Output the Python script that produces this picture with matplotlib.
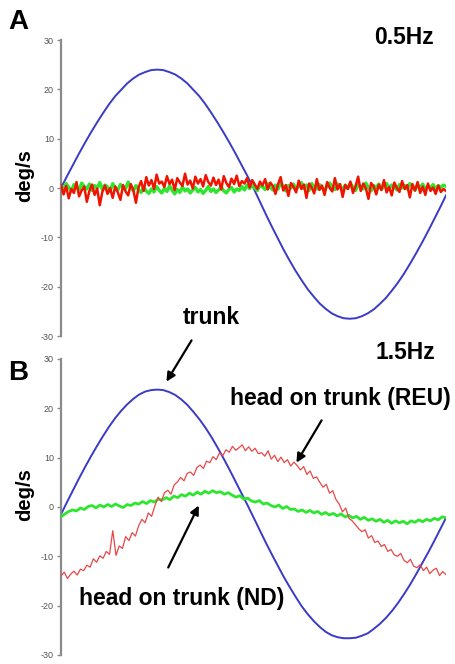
import matplotlib.pyplot as plt
import numpy as np

plt.rcParams['font.family'] = ['Liberation Sans', 'DejaVu Sans']
plt.rcParams['axes.unicode_minus'] = False

# trunk velocity over one cycle (deg/s)
trunk_a = [0, 2.4, 4.7, 7.0, 9.2, 11.3, 13.3, 15.2, 17.0, 18.6, 19.9, 21.2, 22.2, 23.0, 23.5, 23.9,
           24.0, 23.9, 23.5, 23.0, 22.2, 21.2, 19.9, 18.6, 17.0, 15.2, 13.3, 11.3, 9.2, 7.0, 4.7, 2.4,
           0, -2.6, -5.2, -7.7, -10.1, -12.5, -14.7, -16.8, -18.7, -20.5, -22.0, -23.4, -24.5, -25.4, -26.0, -26.4,
           -26.5, -26.4, -26.0, -25.4, -24.6, -23.5, -22.3, -20.8, -19.2, -17.4, -15.4, -13.3, -11.1, -8.8, -6.4, -4.0,
           -1.5]
trunk_b = [-1.5, 1.0, 3.4, 5.8, 8.1, 10.3, 12.4, 14.4, 16.3, 18.0, 19.5, 20.8, 21.9, 22.8, 23.4, 23.7,
           23.8, 23.7, 23.3, 22.7, 21.8, 20.7, 19.3, 17.8, 16.1, 14.2, 12.1, 9.9, 7.6, 5.2, 2.8, 0.4,
           -2.1, -4.6, -7.1, -9.5, -11.8, -14.1, -16.2, -18.2, -20.1, -21.7, -23.1, -24.3, -25.3, -26.0, -26.4, -26.6,
           -26.6, -26.5, -26.1, -25.6, -24.7, -23.7, -22.5, -21.1, -19.5, -17.7, -15.8, -13.7, -11.5, -9.3, -7.0, -4.6,
           -2.2]

head_nd_a = [0.4, -0.3, 0.9, 0.1, -0.6, 0.7, 0.2, -0.4, 1.0, 0.3,
             -0.2, 0.8, -0.5, 0.5, 0.0, 1.1, -0.3, 0.6, 0.2, -0.7,
             0.9, 0.1, -0.4, 0.7, 0.3, -0.1, 1.2, 0.0, -0.6, 0.5,
             -0.3, -0.9, 0.2, -0.6, -1.1, -0.2, -0.8, 0.3, -0.5, -1.0,
             -0.1, -0.7, 0.4, -0.4, -1.2, -0.3, -0.9, 0.2, -0.6, -0.2,
             -1.0, -0.4, 0.1, -0.8, -0.3, -1.1, -0.5, 0.3, -0.7, -0.2,
             -0.9, -0.4, 0.2, -0.6, -1.0, -0.3, 0.1, -0.8, -0.2, -0.5,
             0.3, -0.4, 0.6, -0.1, 0.8, 0.0, -0.5, 0.7, 0.2, -0.3,
             0.9, 0.1, -0.4, 0.6, -0.2, 1.0, 0.3, -0.6, 0.5, 0.0,
             0.8, -0.3, 0.4, 1.1, -0.1, 0.6, -0.5, 0.9, 0.2, -0.2,
             0.7, 0.0, -0.6, 0.5, 1.0, 0.1, -0.3, 0.8, 0.4, -0.4,
             0.6, -0.1, 0.9, 0.2, -0.5, 0.7, 0.3, -0.2, 1.0, 0.0,
             -0.6, 0.5, 0.1, 0.8, -0.3, 0.4, 0.9, -0.1, 0.6, 0.2,
             -0.4, 0.7, 0.0, 0.5, -0.2, 0.9, 0.3, -0.5, 0.6, 0.1,
             0.8, -0.3, 0.4, 0.0, 0.7, -0.2, 0.5, 0.1, 0.6, 0.3]

head_reu_a = [0.6, -1.3, 0.4, -2.1, -0.2, -1.0, 1.2, -1.7, -0.5, 0.3,
              -2.8, -0.6, 0.7, -1.4, -0.1, -3.5, -0.8, 0.5, -1.2, 0.0,
              -2.0, 0.3, -0.9, -2.4, 0.6, -0.7, -1.5, 0.8, -0.4, -3.0,
              0.1, 1.4, -0.6, 2.2, 0.5, 1.6, -0.2, 2.7, 0.9, 1.3,
              0.2, 2.4, 0.8, 1.7, -0.4, 2.0, 1.1, 0.4, 2.9, 0.7,
              1.5, -0.1, 2.3, 0.9, 1.8, 0.3, 2.6, 1.2, 0.5, 2.1,
              0.6, 1.7, -0.3, 2.4, 1.0, 0.2, 1.9, 0.8, 2.5, 0.4,
              1.4, 0.9, 2.0, 0.1, 1.6, 0.7, -0.2, 1.3, 0.5, 1.8,
              -0.3, 1.1, 0.4, -1.2, 0.8, 2.2, -0.5, 0.6, -1.6, 1.0,
              0.2, -0.9, 1.5, -0.2, 0.7, -2.0, 0.9, 0.1, -1.1, 1.8,
              -0.4, 0.5, -1.4, 1.2, 0.0, -0.7, 2.0, -0.3, 0.8, -1.8,
              0.6, -0.2, 1.3, -1.0, 0.4, 2.3, -0.6, 0.9, -0.1, -2.2,
              1.0, 0.3, -1.3, 0.7, -0.4, 1.6, -0.9, 0.2, -1.5, 1.1,
              0.0, -0.8, 1.4, -0.2, 0.6, -1.9, 0.8, -0.5, 1.2, -1.0,
              0.3, -1.4, 0.9, -0.6, 0.1, -1.2, 0.5, -0.8, -0.2, -0.6]

head_nd_b = [-2.0, -1.4, -0.9, -0.6, -0.8, -0.2, -0.5, 0.1, 0.3, -0.2,
             0.4, 0.0, 0.5, 0.1, 0.6, 0.2, -0.1, 0.5, 0.3, 0.8,
             0.6, 1.1, 0.7, 1.3, 1.0, 1.6, 1.4, 1.9, 1.5, 2.2,
             1.9, 2.5, 2.2, 2.8, 2.4, 3.0, 2.6, 3.2, 2.8, 3.3,
             2.9, 3.1, 2.6, 2.9, 2.4, 2.0, 2.3, 1.6, 1.8, 1.2,
             1.0, 1.3, 0.6, 0.8, 0.3, 0.0, 0.4, -0.3, 0.1, -0.5,
             -0.4, -0.9, -0.6, -1.1, -0.7, -1.2, -0.9, -1.5, -1.1, -1.6,
             -1.3, -1.8, -1.4, -2.0, -1.7, -2.2, -1.9, -2.5, -2.1, -2.7,
             -2.4, -2.9, -2.5, -3.1, -2.7, -3.3, -2.8, -3.2, -2.9, -3.4,
             -2.8, -3.1, -2.6, -3.0, -2.5, -2.8, -2.3, -2.6, -2.0, -2.2]

head_reu_b = [-14.0, -13.2, -14.5, -13.6, -13.0, -13.8, -12.6, -12.9, -11.8, -12.2,
              -10.5, -11.2, -9.9, -10.4, -9.0, -9.6, -4.8, -9.8, -7.9, -8.4,
              -6.0, -6.8, -5.2, -5.9, -3.8, -2.5, -3.2, -1.2, -1.9, 0.2,
              2.0, 1.1, 2.9, 3.4, 2.6, 4.5, 5.1, 6.0, 5.3, 6.8,
              7.1, 6.4, 8.0, 8.5, 7.8, 9.3, 9.0, 10.2, 9.6, 11.0,
              10.4, 11.6, 11.1, 12.3, 11.5, 12.0, 12.6, 11.4, 12.2, 11.3,
              11.9, 10.8, 11.0, 10.3, 11.4, 9.7, 10.5, 9.2, 10.1, 9.0,
              9.6, 8.3, 9.1, 8.4, 7.5, 8.2, 6.6, 7.3, 5.8, 6.1,
              5.0, 4.0, 4.6, 2.8, 3.3, 1.5, 0.6, -1.0, -0.2, -2.3,
              -2.8, -3.6, -4.4, -5.0, -4.6, -6.3, -5.8, -7.2, -6.9, -8.0,
              -7.6, -9.0, -8.6, -9.7, -10.0, -9.4, -10.8, -11.3, -10.6, -12.0,
              -12.3, -11.7, -12.9, -12.2, -13.5, -12.8, -12.4, -13.9, -13.1, -13.7]

yticks = [-30, -20, -10, 0, 10, 20, 30]

blue = '#3a3ac8'
green = '#2ee62e'
red_a = '#f01400'
red_b = '#e84848'

fig = plt.figure(figsize=(4.56, 6.64), dpi=100)
ax_a = fig.add_axes([61/456, 1 - 336/664, 385/456, 296/664])
ax_b = fig.add_axes([61/456, 1 - 655/664, 385/456, 296/664])


def phase(values):
    # cycle position 0..1 for each sample
    return np.linspace(0, 1, len(values))


ax_a.plot(phase(trunk_a), trunk_a, color=blue, lw=1.4, zorder=2)
ax_a.plot(phase(head_nd_a), head_nd_a, color=green, lw=2.4, zorder=3)
ax_a.plot(phase(head_reu_a), head_reu_a, color=red_a, lw=1.8, zorder=4)

ax_b.plot(phase(trunk_b), trunk_b, color=blue, lw=1.4, zorder=2)
ax_b.plot(phase(head_nd_b), head_nd_b, color=green, lw=2.0, zorder=3)
ax_b.plot(phase(head_reu_b), head_reu_b, color=red_b, lw=0.9, zorder=4)

for ax in (ax_a, ax_b):
    ax.set_xlim(0, 1)
    ax.set_ylim(-30, 30)
    ax.set_yticks(yticks)
    ax.set_xticks([])
    for s in ('top', 'right', 'bottom'):
        ax.spines[s].set_visible(False)
    ax.spines['left'].set_color('#8a8a8a')
    ax.spines['left'].set_linewidth(1.6)
    ax.tick_params(axis='y', length=3, width=1, color='#8a8a8a',
                   labelsize=6.5, labelcolor='#555555', pad=2)
    ax.patch.set_alpha(0)

fig.text(25/456, 1 - 176/664, 'deg/s', rotation=90, fontsize=14.5, fontweight='bold',
         ha='center', va='center')
fig.text(25/456, 1 - 495/664, 'deg/s', rotation=90, fontsize=14.5, fontweight='bold',
         ha='center', va='center')
fig.text(8/456, 1 - 22/664, 'A', fontsize=20, fontweight='bold', ha='left', va='center')
fig.text(8/456, 1 - 373/664, 'B', fontsize=20, fontweight='bold', ha='left', va='center')
fig.text(404/456, 1 - 38/664, '0.5Hz', fontsize=16.5, fontweight='bold', ha='center', va='center')
fig.text(405/456, 1 - 353/664, '1.5Hz', fontsize=16.5, fontweight='bold', ha='center', va='center')

arrow = dict(arrowstyle='-|>', color='black', lw=1.6, mutation_scale=13)
fig.text(211/456, 1 - 318/664, 'trunk', fontsize=16.5, fontweight='bold', ha='center', va='center')
fig.text(340/456, 1 - 399/664, 'head on trunk (REU)', fontsize=16.5, fontweight='bold',
         ha='center', va='center')
fig.text(182/456, 1 - 598/664, 'head on trunk (ND)', fontsize=16.5, fontweight='bold',
         ha='center', va='center')
ax_b.annotate('', xy=(165, 664 - 384), xytext=(193, 664 - 338),
              xycoords='figure pixels', textcoords='figure pixels', arrowprops=arrow)
ax_b.annotate('', xy=(295, 664 - 465), xytext=(323, 664 - 418),
              xycoords='figure pixels', textcoords='figure pixels', arrowprops=arrow)
ax_b.annotate('', xy=(200, 664 - 503), xytext=(167, 664 - 570),
              xycoords='figure pixels', textcoords='figure pixels', arrowprops=arrow)

fig.savefig('out.png', dpi=100)
